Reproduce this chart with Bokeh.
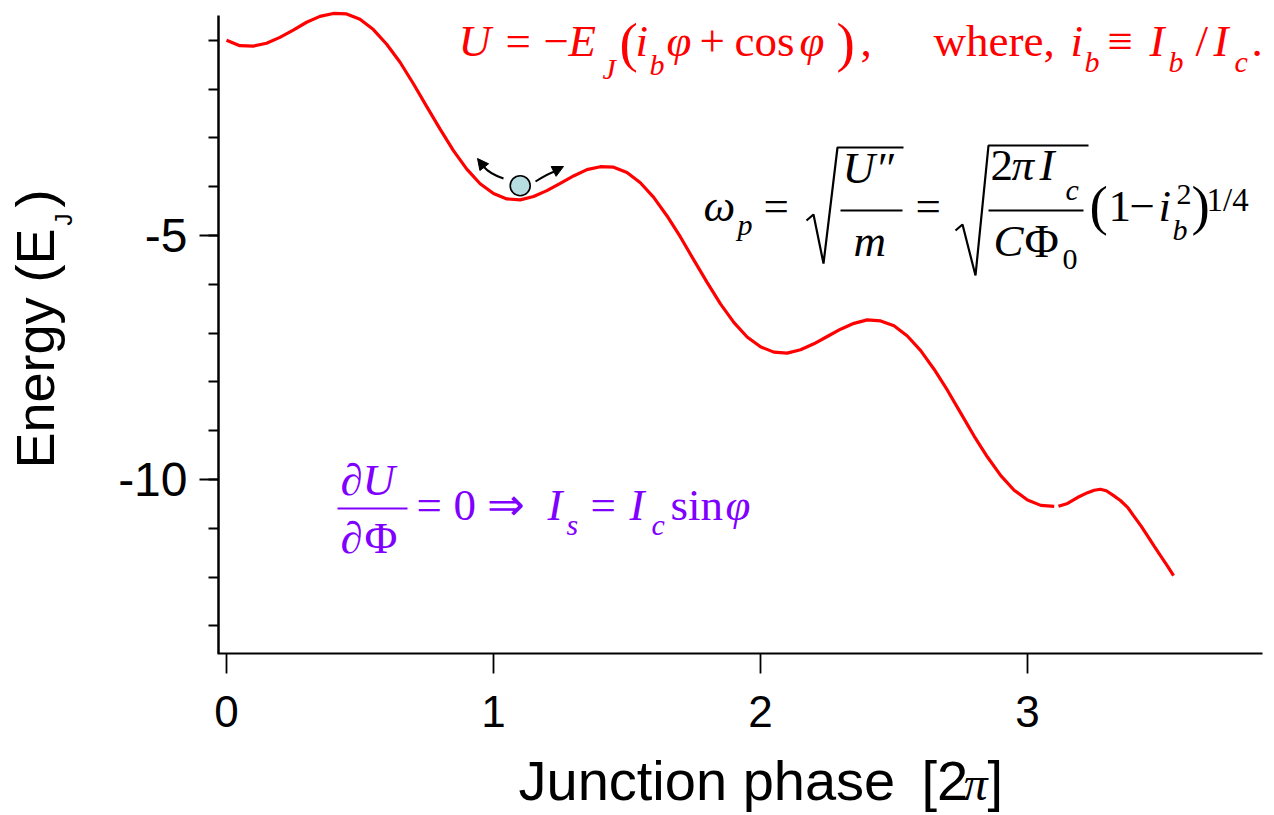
import math
from bokeh.plotting import figure
from bokeh.models import Range1d, FixedTicker, Label, Arrow, NormalHead
from bokeh.embed import file_html
from bokeh.resources import INLINE

# ---------------- data ----------------
phase_a = [0.00, 0.05, 0.10, 0.15, 0.20, 0.25, 0.30, 0.35, 0.40, 0.45,
           0.50, 0.55, 0.60, 0.65, 0.70, 0.75, 0.80, 0.85, 0.90, 0.95,
           1.00, 1.05, 1.10, 1.15, 1.20, 1.25, 1.30, 1.35, 1.40, 1.45,
           1.50, 1.55, 1.60, 1.65, 1.70, 1.75, 1.80, 1.85, 1.90, 1.95,
           2.00, 2.05, 2.10, 2.15, 2.20, 2.25, 2.30, 2.35, 2.40, 2.45,
           2.50, 2.55, 2.60, 2.65, 2.70, 2.75, 2.80, 2.85, 2.90, 2.95,
           3.00, 3.05, 3.10]
energy_a = [-1.00, -1.11, -1.12, -1.06, -0.94, -0.79, -0.63, -0.51, -0.45, -0.46,
            -0.57, -0.78, -1.08, -1.45, -1.89, -2.36, -2.82, -3.26, -3.64, -3.94,
            -4.14, -4.25, -4.27, -4.20, -4.08, -3.93, -3.78, -3.65, -3.59, -3.60,
            -3.71, -3.92, -4.22, -4.60, -5.03, -5.50, -5.96, -6.40, -6.78, -7.08,
            -7.28, -7.39, -7.41, -7.34, -7.22, -7.07, -6.92, -6.80, -6.73, -6.75,
            -6.85, -7.06, -7.36, -7.74, -8.17, -8.64, -9.11, -9.54, -9.92, -10.22,
            -10.42, -10.53, -10.55]

phase_b = [3.116, 3.150, 3.187, 3.225, 3.250, 3.273, 3.295, 3.320, 3.348, 3.375,
           3.397, 3.425, 3.449, 3.475, 3.498, 3.525, 3.547]
energy_b = [-10.55, -10.49, -10.37, -10.27, -10.22, -10.20, -10.23, -10.32, -10.43, -10.57,
            -10.74, -10.95, -11.15, -11.37, -11.56, -11.78, -11.97]

ball_phase = [1.10]
ball_energy = [-3.98]

y_major = [-5, -10]
y_minor = [-1, -2, -3, -4, -5, -6, -7, -8, -9, -10, -11, -12, -13]
x_major = [0, 1, 2, 3]

# ---------------- geometry: frame = whole canvas, axes at fixed places ----------------
W, H = 1274, 815
X0, X1 = (0 - 226) / 267.0, (W - 226) / 267.0
Y1, Y0 = -5 + (235 - 0) / 48.8, -5 - (H - 235) / 48.8
KB = 0.38   # baseline correction (fraction of font size)


def X(px):
    return X0 + px / W * (X1 - X0)


def Y(py):
    return Y1 - py / H * (Y1 - Y0)


p = figure(width=W, height=H, x_range=Range1d(X0, X1), y_range=Range1d(Y0, Y1),
           output_backend="svg", toolbar_location=None,
           min_border_left=0, min_border_right=0,
           min_border_top=0, min_border_bottom=0)
p.outline_line_color = None
p.xgrid.visible = False
p.ygrid.visible = False
p.background_fill_color = "white"
p.border_fill_color = "white"

# axes
yax = p.yaxis[0]
yax.fixed_location = X(218)
yax.ticker = FixedTicker(ticks=y_major, minor_ticks=y_minor)
yax.major_label_overrides = {-5: "-5", -10: "-10"}
yax.bounds = (Y(653), Y(15))
yax.axis_line_width = 2.5
yax.axis_line_color = "black"
yax.major_tick_line_width = 2.2
yax.minor_tick_line_width = 2.2
yax.major_tick_out = 19
yax.major_tick_in = 0
yax.minor_tick_out = 10
yax.minor_tick_in = 0
yax.major_label_text_font = "Liberation Sans"
yax.major_label_text_font_size = "48px"
yax.major_label_text_color = "black"
yax.major_label_standoff = 12

xax = p.xaxis[0]
xax.fixed_location = Y(653)
xax.ticker = FixedTicker(ticks=x_major, minor_ticks=[])
xax.bounds = (X(217), X(1262))
xax.axis_line_width = 1.8
xax.major_tick_line_width = 1.8
xax.major_tick_out = 20
xax.major_tick_in = 0
xax.minor_tick_line_color = None
xax.major_label_text_font = "Liberation Sans"
xax.major_label_text_font_size = "44px"
xax.major_label_text_color = "black"
xax.major_label_standoff = 22

# curve
p.line(phase_a, energy_a, line_color="#ff0000", line_width=3.2)
p.line(phase_b, energy_b, line_color="#ff0000", line_width=3.2)

# ball with arrows
p.bezier(x0=[X(503), X(535)], y0=[Y(178), Y(181)],
         x1=[X(483), X(554)], y1=[Y(166), Y(171)],
         cx0=[X(494), X(543)], cy0=[Y(175), Y(176)],
         cx1=[X(488), X(548)], cy1=[Y(172), Y(173)],
         line_color="black", line_width=2)
p.add_layout(Arrow(end=NormalHead(size=11, fill_color="black", line_color="black"),
                   x_start=X(484), y_start=Y(167), x_end=X(477), y_end=Y(158),
                   line_color="black", line_width=2))
p.add_layout(Arrow(end=NormalHead(size=11, fill_color="black", line_color="black"),
                   x_start=X(553), y_start=Y(171), x_end=X(563), y_end=Y(166),
                   line_color="black", line_width=2))
p.scatter(ball_phase, ball_energy, size=20, fill_color="#b8dde0",
          line_color="black", line_width=1.6)


def T(txt, px, py, size=45, italic=False, color="black",
      font="Liberation Serif", angle=0.0):
    # shift the anchor so the glyph baseline lands on (px, py)
    if angle:
        px = px - KB * size
    else:
        py = py - KB * size
    p.add_layout(Label(x=X(px), y=Y(py), text=txt, angle=angle,
                       text_font=font, text_font_size=f"{size}px",
                       text_font_style="italic" if italic else "normal",
                       text_color=color, text_align="left",
                       text_baseline="alphabetic"))


def L(pts, color="black", width=2.0):
    p.line([X(a) for a, b in pts], [Y(b) for a, b in pts],
           line_color=color, line_width=width)


# red formula
RED = "#ff0000"
for txt, px, py, sz, it in [
    ("U", 458, 58, 45, True), ("=", 505, 58, 45, False), ("\u2212", 543, 58, 45, False),
    ("E", 568, 58, 45, True), ("J", 602, 79, 30, True), ("(", 619, 63, 55, False),
    ("i", 635, 58, 45, True), ("b", 649, 75, 30, True), ("\u03c6", 666, 58, 45, True),
    ("+", 699, 58, 45, False), ("cos", 734, 58, 45, False), ("\u03c6", 799, 58, 45, True),
    (")", 836, 63, 55, False), (",", 860, 58, 45, False), ("where,", 933, 58, 45, False),
    ("i", 1070, 58, 45, True), ("b", 1084, 72, 30, True), ("\u2261", 1107, 58, 45, False),
    ("I", 1149, 58, 45, True), ("b", 1168, 72, 30, True), ("/", 1195, 58, 45, False),
    ("I", 1213, 58, 45, True), ("c", 1234, 72, 30, True), (".", 1251, 58, 45, False)]:
    T(txt, px, py, sz, it, RED)

# plasma-frequency formula
for txt, px, py, sz, it in [
    ("\u03c9", 703, 223, 45, True), ("p", 737, 235, 30, True), ("=", 763, 223, 45, False),
    ("U\u2033", 842, 185, 45, True), ("m", 853, 258, 45, True), ("=", 915, 223, 45, False),
    ("2", 990, 182, 45, False), ("\u03c0", 1011, 182, 45, True), ("I", 1039, 182, 45, True),
    ("c", 1065, 200, 30, True), ("C", 993, 258, 45, True), ("\u03a6", 1024, 258, 47, False),
    ("0", 1062, 270, 30, False), ("(", 1089, 226, 55, False), ("1", 1108, 223, 45, False),
    ("\u2212", 1129, 223, 45, False), ("i", 1158, 223, 45, True), ("2", 1176, 205, 30, False),
    ("b", 1172, 240, 30, True), (")", 1191, 226, 55, False), ("1/4", 1206, 212, 33, False)]:
    T(txt, px, py, sz, it, "black")
L([(806, 220), (813, 214), (823, 263), (837, 147), (903, 147)], width=2.2)
L([(955, 230), (962, 224), (975, 275), (988, 145), (1088, 145)], width=2.2)
L([(840, 210), (902, 210)], width=2.2)
L([(988, 210), (1083, 210)], width=2.2)

# purple formula
PUR = "#8000ff"
for txt, px, py, sz, it in [
    ("\u2202", 340, 497, 45, True), ("U", 362, 497, 45, True),
    ("\u2202", 340, 555, 45, True), ("\u03a6", 364, 555, 45, False),
    ("=", 416, 522, 45, False), ("0", 453, 522, 45, False), ("\u21d2", 486, 522, 45, False),
    ("I", 547, 522, 45, True), ("s", 566, 535, 30, True), ("=", 590, 522, 45, False),
    ("I", 629, 522, 45, True), ("c", 651, 535, 30, True), ("sin", 670, 522, 45, False),
    ("\u03c6", 725, 522, 45, True)]:
    T(txt, px, py, sz, it, PUR)
L([(337, 508), (407, 508)], color=PUR, width=2.2)

# axis titles
SANS = "Liberation Sans"
T("Energy (E", 55, 468, 54, False, "black", SANS, math.pi / 2)
T("J", 72, 225, 24, False, "black", SANS, math.pi / 2)
T(")", 55, 207, 54, False, "black", SANS, math.pi / 2)
T("Junction phase", 518, 801, 56, False, "black", SANS)
T("[2", 921, 801, 56, False, "black", SANS)
T("\u03c0", 963, 801, 48, True, "black", "Liberation Serif")
T("]", 987, 801, 56, False, "black", SANS)

open("out.html", "w").write(file_html(p, INLINE))
